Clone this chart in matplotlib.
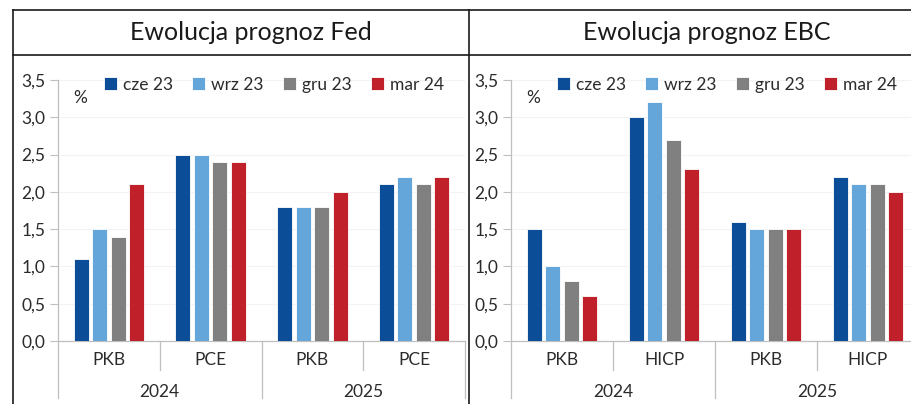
import matplotlib
matplotlib.use("Agg")
import matplotlib.pyplot as plt
from matplotlib.lines import Line2D
from matplotlib.transforms import blended_transform_factory
import numpy as np

plt.rcParams['font.family'] = ['Lato', 'DejaVu Sans']

series = ["cze 23", "wrz 23", "gru 23", "mar 24"]
colors = ["#0B4D97", "#64A6DA", "#808080", "#C0202A"]

fed_categories = ["PKB", "PCE", "PKB", "PCE"]
fed_values = {
    "cze 23": [1.1, 2.5, 1.8, 2.1],
    "wrz 23": [1.5, 2.5, 1.8, 2.2],
    "gru 23": [1.4, 2.4, 1.8, 2.1],
    "mar 24": [2.1, 2.4, 2.0, 2.2],
}
ebc_categories = ["PKB", "HICP", "PKB", "HICP"]
ebc_values = {
    "cze 23": [1.5, 3.0, 1.6, 2.2],
    "wrz 23": [1.0, 3.2, 1.5, 2.1],
    "gru 23": [0.8, 2.7, 1.5, 2.1],
    "mar 24": [0.6, 2.3, 1.5, 2.0],
}
years = ["2024", "2025"]
yticks = [0.0, 0.5, 1.0, 1.5, 2.0, 2.5, 3.0, 3.5]
ytick_labels = ["0,0", "0,5", "1,0", "1,5", "2,0", "2,5", "3,0", "3,5"]

W, H = 912, 404
fig = plt.figure(figsize=(W / 100, H / 100), dpi=100)

def fx(px):
    return px / W

def fy(py):
    return 1 - py / H

text_color = "#2b2b2b"
axis_color = "#BFBFBF"

# frame lines
line_kw = dict(color="#1a1a1a", lw=1.2, transform=fig.transFigure)
fig.add_artist(Line2D([fx(13), 1], [fy(10), fy(10)], **line_kw))
fig.add_artist(Line2D([fx(13), 1], [fy(55), fy(55)], **line_kw))
fig.add_artist(Line2D([fx(13), fx(13)], [fy(10), 0], **line_kw))
fig.add_artist(Line2D([fx(469), fx(469)], [fy(10), 0], **line_kw))

fig.text(fx(251), fy(33), "Ewolucja prognoz Fed", ha="center", va="center",
         fontsize=18, color="#1a1a1a")
fig.text(fx(707), fy(33), "Ewolucja prognoz EBC", ha="center", va="center",
         fontsize=18, color="#1a1a1a")


def draw(ax, categories, values):
    x = np.arange(len(categories))
    pitch = 0.182
    width = 0.148
    for i, s in enumerate(series):
        ax.bar(x + (i - 1.5) * pitch, values[s], width=width, color=colors[i],
               edgecolor="white", linewidth=0.6, label=s, zorder=3)
    ax.set_xlim(-0.5, len(categories) - 0.5)
    ax.set_ylim(0, 3.5)
    ax.set_yticks(yticks)
    ax.set_yticklabels(ytick_labels)
    ax.set_xticks(x)
    ax.set_xticklabels(categories)
    ax.tick_params(axis="x", length=0, pad=8, labelsize=12.5, labelcolor=text_color)
    ax.tick_params(axis="y", length=6, width=0.8, color=axis_color, pad=3,
                   labelsize=12.5, labelcolor=text_color)
    for sp in ["top", "right"]:
        ax.spines[sp].set_visible(False)
    for sp in ["left", "bottom"]:
        ax.spines[sp].set_color(axis_color)
        ax.spines[sp].set_linewidth(0.9)
    ax.grid(axis="y", color="#F3F3F3", lw=0.8, zorder=0)
    ax.set_axisbelow(True)
    tr = blended_transform_factory(ax.transData, ax.transAxes)
    for b in [0.5, 2.5]:
        ax.add_line(Line2D([b, b], [0, -0.112], transform=tr, color=axis_color,
                           lw=0.9, clip_on=False))
    for b in [-0.5, 1.5, 3.5]:
        ax.add_line(Line2D([b, b], [0, -0.22], transform=tr, color=axis_color,
                           lw=0.9, clip_on=False))
    for j, yr in enumerate(years):
        ax.text(0.5 + 2 * j, -0.195, yr, transform=tr, ha="center", va="center",
                fontsize=12.5, color=text_color)
    ax.text(0.054, 0.93, "%", transform=ax.transAxes, ha="center", va="center",
            fontsize=12.5, color=text_color)
    ax.legend(loc="center left", bbox_to_anchor=(0.112, 0.982), ncol=4,
              frameon=False, fontsize=12.5,
              handlelength=0.75, handleheight=0.75,
              handletextpad=0.35, columnspacing=1.1, borderpad=0, borderaxespad=0,
              labelcolor=text_color)


ax1 = fig.add_axes([fx(58), fy(341), fx(465 - 58), (341 - 80) / H])
draw(ax1, fed_categories, fed_values)
ax2 = fig.add_axes([fx(511), fy(341), fx(919 - 511), (341 - 80) / H])
draw(ax2, ebc_categories, ebc_values)

fig.savefig("out.png", dpi=100)
